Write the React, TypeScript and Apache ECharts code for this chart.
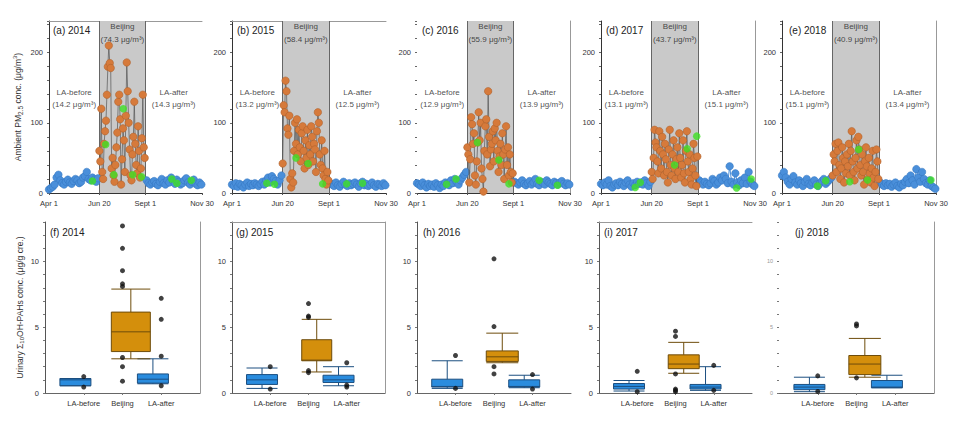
import React, { useEffect, useRef } from 'react';
import * as echarts from 'echarts';

const FONT = '"Liberation Sans", Arial, Helvetica, sans-serif';

// ---------- labels / categories ----------
const years = ['2014', '2015', '2016', '2017', '2018'];
const topTags = ['(a)', '(b)', '(c)', '(d)', '(e)'];
const bottomTags = ['(f)', '(g)', '(h)', '(i)', '(j)'];
const dateTickDays = [0, 80, 153, 243];
const dateTickLabels = ['Apr 1', 'Jun 20', 'Sept 1', 'Nov 30'];
const beijingStartDay = 80;
const beijingEndDay = 153;
const lastDay = 243;
const afterStartDay = 155;
const blueStep = 3;
const beijingStep = 1.5;
const boxCategories = ['', 'LA-before', 'Beijing', 'LA-after', ''];
const topYTicks = [0, 100, 200];
const bottomYTicks = [0, 5, 10];

const meanBeijing = ['74.3', '58.4', '55.9', '43.7', '40.9'];
const meanBefore = ['14.2', '13.2', '12.9', '13.1', '15.1'];
const meanAfter = ['14.3', '12.5', '13.9', '15.1', '13.4'];

// ---------- PM2.5 daily values ----------
const before2014 = [5, 7, 9, 12, 22, 26, 18, 14, 12, 16, 19, 15, 13, 17, 20, 18, 14, 16, 22, 24, 30, 20, 18, 22, 19, 16, 21];
const beijing2014 = [60, 45, 120, 30, 20, 70, 88, 103, 140, 180, 210, 185, 178, 35, 50, 25, 16, 40, 65, 86, 130, 140, 105, 12, 48, 92, 75, 30, 110, 186, 145, 100, 62, 25, 18, 55, 80, 130, 70, 40, 28, 95, 60, 22, 35, 78, 140, 65, 50];
const after2014 = [18, 14, 12, 15, 17, 13, 11, 16, 20, 14, 12, 18, 15, 22, 17, 13, 19, 16, 12, 14, 18, 21, 15, 12, 16, 19, 13, 11, 15, 12];
const green2014 = [[69, 17], [90, 69], [103, 26], [118, 120], [133, 26], [147, 23], [195, 20], [203, 14], [226, 18]];

const before2015 = [12, 10, 14, 9, 13, 11, 8, 12, 15, 10, 13, 11, 14, 12, 10, 13, 16, 12, 18, 22, 15, 24, 20, 17, 12, 18, 25];
const beijing2015 = [42, 125, 115, 160, 145, 92, 83, 110, 20, 8, 28, 15, 60, 100, 70, 105, 55, 90, 65, 45, 85, 95, 60, 35, 75, 50, 90, 40, 68, 55, 95, 80, 45, 70, 62, 30, 88, 115, 100, 55, 40, 75, 35, 25, 60, 20, 12, 30, 18];
const after2015 = [14, 12, 10, 15, 11, 9, 13, 16, 12, 10, 14, 11, 13, 15, 12, 9, 14, 16, 11, 13, 10, 12, 15, 11, 9, 13, 12, 10, 14, 11];
const green2015 = [[55, 14], [67, 12.5], [101, 50], [120, 42], [143, 13], [181, 13], [206, 14]];

const before2016 = [14, 12, 10, 15, 11, 8, 13, 10, 12, 9, 14, 11, 7, 12, 10, 15, 13, 11, 18, 14, 20, 16, 12, 18, 22, 26, 30];
const beijing2016 = [65, 55, 15, 48, 108, 98, 70, 85, 25, 12, 45, 72, 115, 75, 100, 35, 20, 2, 60, 95, 105, 55, 145, 80, 38, 62, 70, 88, 45, 92, 75, 100, 60, 30, 52, 70, 40, 85, 55, 20, 62, 95, 40, 65, 25, 55, 30, 15, 28];
const after2016 = [16, 14, 12, 15, 18, 13, 11, 14, 17, 12, 15, 20, 13, 11, 16, 14, 12, 18, 15, 13, 11, 16, 14, 12, 15, 17, 13, 11, 14, 12];
const green2016 = [[47, 12.5], [62, 20], [96, 72], [130, 47], [146, 13], [194, 18], [223, 11]];

const before2017 = [13, 11, 15, 12, 18, 10, 8, 12, 14, 11, 16, 13, 10, 15, 18, 12, 9, 14, 11, 16, 13, 15, 12, 18, 14, 10, 16];
const beijing2017 = [30, 20, 50, 90, 72, 65, 45, 28, 88, 60, 35, 80, 55, 25, 70, 48, 30, 15, 62, 90, 40, 25, 55, 75, 35, 20, 48, 65, 30, 85, 50, 22, 40, 75, 28, 15, 60, 88, 45, 30, 55, 20, 12, 35, 70, 50, 25, 10, 52];
const after2017 = [18, 15, 12, 16, 13, 11, 14, 20, 17, 12, 15, 22, 18, 25, 20, 14, 38, 16, 12, 28, 15, 11, 18, 14, 22, 13, 30, 16, 12, 10];
const green2017 = [[54, 8], [62, 15], [116, 40], [136, 63], [151, 81], [214, 7], [237, 20]];

const before2018 = [25, 30, 22, 16, 12, 20, 24, 15, 12, 18, 14, 10, 16, 20, 13, 11, 15, 18, 12, 10, 14, 17, 20, 13, 16, 19, 22];
const beijing2018 = [25, 55, 45, 70, 30, 60, 72, 40, 20, 35, 65, 50, 15, 45, 28, 55, 38, 70, 25, 60, 88, 45, 30, 18, 50, 75, 35, 80, 62, 40, 25, 55, 30, 12, 45, 65, 38, 20, 50, 28, 15, 35, 60, 22, 10, 30, 62, 45, 20];
const after2018 = [15, 12, 10, 14, 11, 13, 9, 12, 15, 10, 8, 13, 11, 16, 20, 14, 25, 18, 12, 34, 22, 16, 30, 20, 14, 12, 18, 10, 8, 6];
const green2018 = [[56, 10], [69, 17.6], [107, 16], [121, 62], [135, 18.6], [235, 18.6]];

const beforeSets = [before2014, before2015, before2016, before2017, before2018];
const beijingSets = [beijing2014, beijing2015, beijing2016, beijing2017, beijing2018];
const afterSets = [after2014, after2015, after2016, after2017, after2018];
const greenSets = [green2014, green2015, green2016, green2017, green2018];

// ---------- urinary OH-PAHs boxes: [min, Q1, median, Q3, max] ----------
const boxBefore2014 = [0.55, 0.55, 1.0, 1.1, 1.1];
const boxBeijing2014 = [2.6, 3.15, 4.65, 6.15, 7.9];
const boxAfter2014 = [0.7, 0.75, 1.05, 1.45, 2.6];
const outliers2014 = [[1, 1.25], [1, 0.45], [2, 12.7], [2, 11.0], [2, 9.3], [2, 8.3], [2, 8.1], [2, 2.7], [2, 2.0], [2, 0.9], [3, 7.2], [3, 5.6], [3, 2.8], [3, 0.55]];

const boxBefore2015 = [0.35, 0.65, 1.0, 1.4, 1.9];
const boxBeijing2015 = [1.6, 2.45, 2.5, 4.05, 5.6];
const boxAfter2015 = [0.55, 0.8, 1.0, 1.35, 2.0];
const outliers2015 = [[1, 2.0], [1, 0.3], [2, 6.8], [2, 5.85], [2, 5.75], [2, 1.7], [2, 1.55], [3, 2.3], [3, 0.6], [3, 0.45]];

const boxBefore2016 = [0.35, 0.45, 0.5, 1.05, 2.45];
const boxBeijing2016 = [2.3, 2.4, 2.75, 3.2, 4.55];
const boxAfter2016 = [0.4, 0.45, 0.5, 1.0, 1.35];
const outliers2016 = [[1, 2.85], [1, 0.35], [2, 10.2], [2, 5.05], [2, 2.0], [2, 1.45], [3, 1.4], [3, 0.3]];

const boxBefore2017 = [0.15, 0.3, 0.5, 0.72, 0.95];
const boxBeijing2017 = [1.5, 1.85, 2.2, 2.9, 3.85];
const boxAfter2017 = [0.2, 0.3, 0.45, 0.65, 2.0];
const outliers2017 = [[1, 1.65], [1, 0.1], [2, 4.7], [2, 4.3], [2, 1.45], [2, 0.3], [2, 0.2], [2, 0.1], [3, 2.1], [3, 0.2]];

const boxBefore2018 = [0.1, 0.25, 0.45, 0.65, 1.2];
const boxBeijing2018 = [1.2, 1.4, 2.2, 2.85, 4.15];
const boxAfter2018 = [0.4, 0.4, 0.45, 0.95, 1.35];
const outliers2018 = [[1, 1.3], [1, 0.12], [2, 5.25], [2, 5.1], [2, 1.15]];

const boxBeforeSets = [boxBefore2014, boxBefore2015, boxBefore2016, boxBefore2017, boxBefore2018];
const boxBeijingSets = [boxBeijing2014, boxBeijing2015, boxBeijing2016, boxBeijing2017, boxBeijing2018];
const boxAfterSets = [boxAfter2014, boxAfter2015, boxAfter2016, boxAfter2017, boxAfter2018];
const outlierSets = [outliers2014, outliers2015, outliers2016, outliers2017, outliers2018];

// ---------- layout & style ----------
const TOP_LEFTS = [49, 232, 417, 601, 782];
const TOP_WIDTHS = [153, 154, 153, 154, 154];
const TOP_TOP = 21;
const TOP_HEIGHT = 172;
const TOP_MAX = 245;
const BOT_LEFTS = [45, 232, 417, 599, 779];
const BOT_WIDTHS = [155, 153, 154, 153, 155];
const BOT_TOP = 222;
const BOT_HEIGHT = 171;
const BOT_MAX = 13;
const topTagOffsets = [4, 5, 5, 5, 7];
const bottomTagOffsets = [5, 4, 6, 5, 16];
const topYAxisLine = [true, true, false, true, true];
const botYAxisLine = [true, true, true, true, false];
const topFrameTop = [true, true, false, false, false];
const topFrameRight = [false, false, true, true, true];
const botFrameTop = [false, true, false, true, false];
const botFrameRight = [true, true, false, false, true];
const beijingBoxWidths = [39, 30, 32, 31, 32];

const BLUE = '#4a8fda';
const BLUE_EDGE = '#3274bf';
const ORANGE = '#d67a3b';
const ORANGE_EDGE = '#a95d28';
const GREEN = '#3fe024';
const SHADE = '#c9c9c9';
const BOX_BLUE = '#2a8cde';
const BOX_BLUE_EDGE = '#1c4f80';
const BOX_ORANGE = '#d48f0c';
const BOX_ORANGE_EDGE = '#6e4c0b';
const TEXT = '#222';

function placeholder() {
  return { value: [0, 0, 0, 0, 0], itemStyle: { color: 'transparent', borderColor: 'transparent', borderWidth: 0 } };
}

function buildOption() {
  const grid: any[] = [];
  const xAxis: any[] = [];
  const yAxis: any[] = [];
  const series: any[] = [];
  const graphic: any[] = [];

  const frameX = (gi: number) => ({
    gridIndex: gi, type: 'value', position: 'top', min: 0, max: 1,
    axisLine: { show: true, onZero: false, lineStyle: { color: '#999', width: 1 } },
    axisTick: { show: false }, axisLabel: { show: false }, splitLine: { show: false },
  });
  const frameY = (gi: number) => ({
    gridIndex: gi, type: 'value', position: 'right', min: 0, max: 1,
    axisLine: { show: true, onZero: false, lineStyle: { color: '#999', width: 1 } },
    axisTick: { show: false }, axisLabel: { show: false }, splitLine: { show: false },
  });

  // ---------- top row ----------
  for (let i = 0; i < 5; i++) {
    const gi = grid.length;
    grid.push({ left: TOP_LEFTS[i], top: TOP_TOP, width: TOP_WIDTHS[i], height: TOP_HEIGHT, containLabel: false });
    const xi = xAxis.length;
    xAxis.push({
      gridIndex: gi, type: 'value', min: 0, max: lastDay,
      axisLine: { show: true, onZero: false, lineStyle: { color: '#333', width: 1 } },
      axisTick: { show: true, customValues: dateTickDays, length: 2, lineStyle: { color: '#555' } },
      axisLabel: {
        show: true, customValues: dateTickDays, margin: 6, fontSize: 7.5, color: '#333', fontFamily: FONT,
        formatter: (v: number) => { const k = dateTickDays.indexOf(Math.round(v)); return k >= 0 ? dateTickLabels[k] : ''; },
      },
      splitLine: { show: false },
    });
    if (topFrameTop[i]) xAxis.push(frameX(gi));
    const yi = yAxis.length;
    const yMain: any = {
      gridIndex: gi, type: 'value', min: 0, max: TOP_MAX, interval: 20,
      axisLine: { show: topYAxisLine[i], onZero: false, lineStyle: { color: '#333', width: 1 } },
      axisTick: { show: true, length: 2, lineStyle: { color: '#666' } },
      axisLabel: { show: true, customValues: topYTicks, margin: 6, fontSize: 7.5, color: '#333', fontFamily: FONT },
      splitLine: { show: false },
    };
    if (i === 0) {
      Object.assign(yMain, {
        name: '{t|Ambient PM}{sub|2.5}{t| conc. (μg/m}{sup|3}{t|)}',
        nameLocation: 'middle', nameGap: 25, nameRotate: 90,
        nameTextStyle: {
          color: '#333', fontFamily: FONT, fontSize: 8.5,
          rich: {
            t: { fontSize: 8.5, fontFamily: FONT, color: '#333' },
            sub: { fontSize: 6.5, fontFamily: FONT, color: '#333', padding: [5, 0, 0, 0] },
            sup: { fontSize: 6, fontFamily: FONT, color: '#333', padding: [0, 0, 6, 0] },
          },
        },
      });
    }
    yAxis.push(yMain);
    if (topFrameRight[i]) yAxis.push(frameY(gi));

    const before = beforeSets[i];
    const bj = beijingSets[i];
    const after = afterSets[i];

    series.push({
      type: 'line', xAxisIndex: xi, yAxisIndex: yi, silent: true, z: 3,
      data: before.map((v, k) => [k * blueStep, v]),
      symbol: 'circle', symbolSize: 7.5, showSymbol: true,
      itemStyle: { color: BLUE, borderColor: BLUE_EDGE, borderWidth: 0.5 },
      lineStyle: { color: BLUE, width: 1 },
      markArea: {
        silent: true, z: 1,
        itemStyle: { color: SHADE },
        data: [[{ xAxis: beijingStartDay }, { xAxis: beijingEndDay }]],
      },
      markLine: {
        silent: true, z: 1, symbol: ['none', 'none'], label: { show: false },
        lineStyle: { color: '#666', width: 1, type: 'solid' },
        data: [{ xAxis: beijingStartDay }, { xAxis: beijingEndDay }],
      },
    });
    series.push({
      type: 'line', xAxisIndex: xi, yAxisIndex: yi, silent: true, z: 3,
      data: after.map((v, k) => [afterStartDay + k * blueStep, v]),
      symbol: 'circle', symbolSize: 7.5, showSymbol: true,
      itemStyle: { color: BLUE, borderColor: BLUE_EDGE, borderWidth: 0.5 },
      lineStyle: { color: BLUE, width: 1 },
    });
    series.push({
      type: 'line', xAxisIndex: xi, yAxisIndex: yi, silent: true, z: 4,
      data: bj.map((v, k) => [beijingStartDay + k * beijingStep, v]),
      symbol: 'circle', symbolSize: 7.5, showSymbol: true,
      itemStyle: { color: ORANGE, borderColor: ORANGE_EDGE, borderWidth: 0.5 },
      lineStyle: { color: '#555', width: 0.7 },
    });
    series.push({
      type: 'scatter', xAxisIndex: xi, yAxisIndex: yi, silent: true, z: 5,
      data: greenSets[i].map((p) => p.slice()),
      symbol: 'circle', symbolSize: 7.5,
      itemStyle: { color: GREEN },
    });
    series.push({
      type: 'scatter', xAxisIndex: xi, yAxisIndex: yi, silent: true, z: 6,
      symbolSize: 1, itemStyle: { color: 'transparent' },
      label: { show: true, position: 'inside', fontSize: 8, lineHeight: 12.5, color: TEXT, fontFamily: FONT },
      data: [
        { value: [(beijingStartDay + beijingEndDay) / 2, 228], label: { formatter: `Beijing\n(${meanBeijing[i]} μg/m³)` } },
        { value: [beijingStartDay / 2, 134.5], label: { formatter: `LA-before\n(${meanBefore[i]} μg/m³)` } },
        { value: [(beijingEndDay + lastDay) / 2, 134.5], label: { formatter: `LA-after\n(${meanAfter[i]} μg/m³)` } },
      ],
    });

    graphic.push({
      type: 'text', left: TOP_LEFTS[i] + topTagOffsets[i], top: TOP_TOP + 4, z: 10,
      style: { text: `${topTags[i]} ${years[i]}`, fontSize: 10, fontFamily: FONT, fill: TEXT },
    });
  }

  // ---------- bottom row ----------
  for (let i = 0; i < 5; i++) {
    const gi = grid.length;
    grid.push({ left: BOT_LEFTS[i], top: BOT_TOP, width: BOT_WIDTHS[i], height: BOT_HEIGHT, containLabel: false });
    const xi = xAxis.length;
    xAxis.push({
      gridIndex: gi, type: 'category', data: boxCategories, boundaryGap: false,
      axisLine: { show: true, onZero: false, lineStyle: { color: '#666', width: 1 } },
      axisTick: { show: true, length: 2, interval: (idx: number) => idx >= 1 && idx <= 3, lineStyle: { color: '#777' } },
      axisLabel: { show: true, interval: 0, margin: 6, fontSize: 7.5, color: '#333', fontFamily: FONT },
      splitLine: { show: false },
    });
    if (botFrameTop[i]) xAxis.push(frameX(gi));
    const yi = yAxis.length;
    const faint = i === 4;
    const yMain: any = {
      gridIndex: gi, type: 'value', min: 0, max: BOT_MAX, interval: 1,
      axisLine: { show: botYAxisLine[i], onZero: false, lineStyle: { color: '#555', width: 1 } },
      axisTick: { show: true, length: 2, lineStyle: { color: '#777' } },
      axisLabel: { show: true, customValues: bottomYTicks, margin: 6, fontSize: faint ? 5.5 : 7.5, color: faint ? '#999' : '#333', fontFamily: FONT },
      splitLine: { show: false },
    };
    if (i === 0) {
      Object.assign(yMain, {
        name: '{t|Urinary Σ}{sub|10}{t|OH-PAHs conc. (μg/g cre.)}',
        nameLocation: 'middle', nameGap: 20, nameRotate: 90,
        nameTextStyle: {
          color: '#333', fontFamily: FONT, fontSize: 8.5,
          rich: {
            t: { fontSize: 8.5, fontFamily: FONT, color: '#333' },
            sub: { fontSize: 6, fontFamily: FONT, color: '#333', padding: [5, 0, 0, 0] },
          },
        },
      });
    }
    yAxis.push(yMain);
    if (botFrameRight[i]) yAxis.push(frameY(gi));

    series.push({
      type: 'boxplot', xAxisIndex: xi, yAxisIndex: yi, silent: true, z: 3,
      boxWidth: [31, 31],
      itemStyle: { color: BOX_BLUE, borderColor: BOX_BLUE_EDGE, borderWidth: 1 },
      data: [placeholder(), boxBeforeSets[i].slice(), placeholder(), boxAfterSets[i].slice()],
    });
    series.push({
      type: 'boxplot', xAxisIndex: xi, yAxisIndex: yi, silent: true, z: 3,
      boxWidth: [beijingBoxWidths[i], beijingBoxWidths[i]],
      itemStyle: { color: BOX_ORANGE, borderColor: BOX_ORANGE_EDGE, borderWidth: 1 },
      data: [placeholder(), placeholder(), boxBeijingSets[i].slice()],
    });
    series.push({
      type: 'scatter', xAxisIndex: xi, yAxisIndex: yi, silent: true, z: 5,
      data: outlierSets[i].map((p) => p.slice()),
      symbol: 'circle', symbolSize: 5,
      itemStyle: { color: '#111' },
    });

    graphic.push({
      type: 'text', left: BOT_LEFTS[i] + bottomTagOffsets[i], top: BOT_TOP + 5, z: 10,
      style: { text: `${bottomTags[i]} ${years[i]}`, fontSize: 10, fontFamily: FONT, fill: TEXT },
    });
  }

  return {
    animation: false,
    backgroundColor: '#ffffff',
    textStyle: { fontFamily: FONT },
    grid, xAxis, yAxis, series, graphic,
  };
}

export default function App() {
  const ref = useRef<HTMLDivElement>(null);
  useEffect(() => {
    document.body.style.margin = '0';
    const chart = echarts.init(ref.current as HTMLDivElement, null, { renderer: 'svg' });
    chart.setOption(buildOption() as any);
    return () => chart.dispose();
  }, []);
  return (
    <div
      ref={ref}
      style={{ position: 'absolute', left: 0, top: 0, width: 960, height: 425, background: '#fff' }}
    />
  );
}
